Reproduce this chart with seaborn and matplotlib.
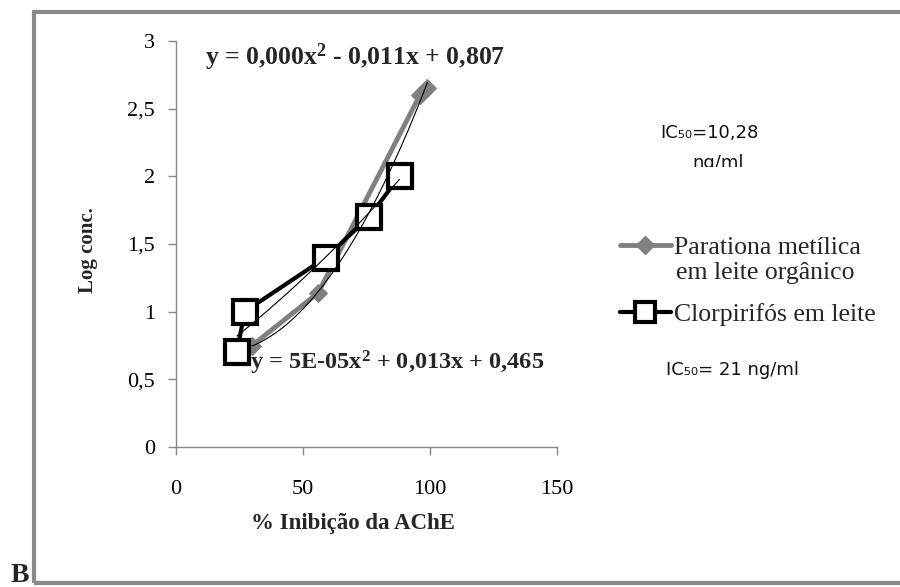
import numpy as np
import pandas as pd
import matplotlib
matplotlib.use("Agg")
import matplotlib.pyplot as plt
import seaborn as sns
from matplotlib.lines import Line2D
from matplotlib.patches import Rectangle

# ---- data ----
paration_x = [30, 56, 96, 99]
paration_y = [0.75, 1.14, 2.60, 2.65]
clor_x = [24, 27, 59, 76, 88]
clor_y = [0.70, 1.00, 1.40, 1.70, 2.00]
x_ticks = [0, 50, 100, 150]
y_ticks = [0, 0.5, 1, 1.5, 2, 2.5, 3]
y_tick_labels = ["0", "0,5", "1", "1,5", "2", "2,5", "3"]
series_names = ["Parationa metílica", "Clorpirifós em leite"]
series_name_cont = "em leite orgânico"
eq_paration = "y = 0,000x$^{2}$ - 0,011x + 0,807"
eq_clor = "y = 5E-05x$^{2}$ + 0,013x + 0,465"
ic_paration = ["IC₅₀=10,28", "ng/ml"]
ic_clor = "IC₅₀= 21 ng/ml"
x_label = "% Inibição da AChE"
y_label = "Log conc."
panel = "B"

sns.set_style("ticks")
plt.rcParams["font.family"] = ["Liberation Serif", "DejaVu Serif"]
plt.rcParams["mathtext.fontset"] = "custom"
plt.rcParams["mathtext.rm"] = "Liberation Serif:bold"
plt.rcParams["mathtext.bf"] = "Liberation Serif:bold"
plt.rcParams["mathtext.it"] = "Liberation Serif:bold"

GRAY = "#808080"
AX_GRAY = "#868686"

df_p = pd.DataFrame({"x": paration_x, "y": paration_y})
df_c = pd.DataFrame({"x": clor_x, "y": clor_y})

fig = plt.figure(figsize=(9, 5.87), dpi=100)
W, H = 900, 587
ax = fig.add_axes([176 / W, 1 - 447 / H, (557 - 176) / W, (447 - 41) / H])

sns.lineplot(data=df_p, x="x", y="y", sort=False, ax=ax, color=GRAY, lw=3.5,
             marker="D", markersize=9, markeredgecolor=GRAY, markerfacecolor=GRAY, zorder=3)
sns.lineplot(data=df_c, x="x", y="y", sort=False, ax=ax, color="black", lw=3,
             marker="s", markersize=17, markeredgewidth=3, markeredgecolor="black",
             markerfacecolor="white", zorder=4)
# polynomial trendlines
sns.regplot(data=df_p, x="x", y="y", order=2, ci=None, scatter=False, ax=ax,
            line_kws=dict(color="black", lw=0.8, zorder=5))
sns.regplot(data=df_c, x="x", y="y", order=2, ci=None, scatter=False, ax=ax,
            line_kws=dict(color="black", lw=0.8, zorder=5))

ax.set_xlim(0, 150)
ax.set_ylim(0, 3)
ax.set_xticks(x_ticks)
ax.set_xticklabels([str(t) for t in x_ticks])
ax.set_yticks(y_ticks)
ax.set_yticklabels(y_tick_labels)
ax.tick_params(axis="both", colors=AX_GRAY, labelcolor="black", labelsize=16,
               length=6, width=1, direction="out")
ax.tick_params(axis="x", pad=18)
ax.tick_params(axis="y", pad=9)
for s in ["top", "right"]:
    ax.spines[s].set_visible(False)
for s in ["left", "bottom"]:
    ax.spines[s].set_color(AX_GRAY)
    ax.spines[s].set_linewidth(1)

ax.set_xlabel("")
ax.set_ylabel("")
fig.text(353 / W, 1 - 523 / H, x_label, ha="center", va="center",
         fontsize=16.5, fontweight="bold")
fig.text(88 / W, 1 - 250 / H, y_label, ha="center", va="center",
         fontsize=15, fontweight="bold", rotation=90)

# equations
fig.text(205 / W, 1 - 57 / H, eq_paration, ha="left", va="center",
         fontsize=18.5, fontweight="bold")
fig.text(250 / W, 1 - 363 / H, eq_clor, ha="left", va="center",
         fontsize=17.5, fontweight="bold")

# IC50 notes
fig.text(660 / W, 1 - 133 / H, ic_paration[0], ha="left", va="center",
         fontsize=13, family="DejaVu Sans", color="#111111")
fig.text(692 / W, 1 - 163 / H, ic_paration[1], ha="left", va="center",
         fontsize=13, family="DejaVu Sans", color="#111111")
fig.patches.append(Rectangle((680 / W, 1 - 185 / H), 80 / W, 18 / H,
                             transform=fig.transFigure, facecolor="white",
                             edgecolor="none", zorder=10))
fig.text(666 / W, 1 - 370 / H, ic_clor, ha="left", va="center",
         fontsize=13, family="DejaVu Sans", color="#111111")

# legend (two entries placed as in the reference)
handles = [
    Line2D([], [], color=GRAY, lw=3.5, marker="D", markersize=9,
           markerfacecolor=GRAY, markeredgecolor=GRAY),
    Line2D([], [], color="black", lw=3, marker="s", markersize=14,
           markeredgewidth=3, markeredgecolor="black", markerfacecolor="white"),
]
for h, name, ytop in zip(handles, series_names, [233, 300]):
    fig.legend([h], [name], loc="upper left",
               bbox_to_anchor=(617 / W, 1 - ytop / H), frameon=False,
               fontsize=18.5, handlelength=2.0, handletextpad=0.1,
               borderpad=0.1, borderaxespad=0.0)
fig.text(676 / W, 1 - 273 / H, series_name_cont, ha="left", va="center",
         fontsize=18.5)

# panel letter and frame
fig.text(11 / W, 1 - 575 / H, panel, ha="left", va="center",
         fontsize=20, fontweight="bold")
fig.patches.append(Rectangle((34 / W, 1 - 583 / H), 1.2, (583 - 12) / H,
                             transform=fig.transFigure, facecolor="none",
                             edgecolor="#8a8a8a", lw=3, zorder=0))

fig.savefig("out.png", dpi=100)
